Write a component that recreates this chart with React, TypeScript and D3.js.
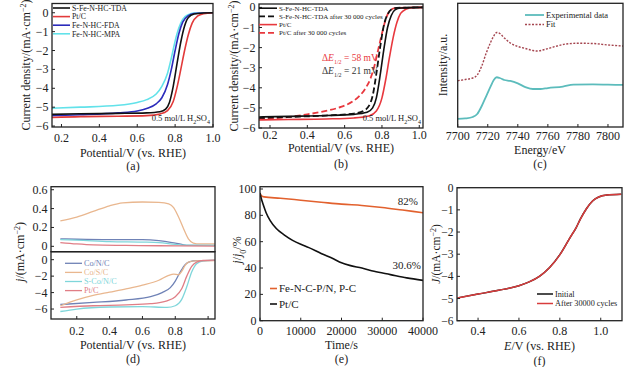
import React from "react";
import * as d3 from "d3";

const FONT = "'Liberation Serif', 'Times New Roman', serif";

type Pt = [number, number];

// (a) polarization curves in 0.5 mol/L H2SO4
const aTDA: Pt[] = [[0.15,-5.38],[0.3,-5.35],[0.5,-5.33],[0.65,-5.3],[0.72,-5.24],[0.75,-5.1],[0.77,-4.75],[0.79,-3.9],[0.81,-2.7],[0.83,-1.55],[0.85,-0.7],[0.87,-0.25],[0.9,-0.07],[0.95,-0.01],[1.0,0]];
const aPtC: Pt[] = [[0.15,-5.55],[0.3,-5.5],[0.5,-5.48],[0.65,-5.45],[0.72,-5.36],[0.76,-5.18],[0.79,-4.7],[0.81,-3.95],[0.83,-3.0],[0.85,-2.0],[0.87,-1.15],[0.89,-0.55],[0.92,-0.17],[0.95,-0.05],[1.0,0]];
const aFDA: Pt[] = [[0.15,-5.45],[0.3,-5.4],[0.5,-5.3],[0.6,-5.2],[0.65,-5.07],[0.7,-4.82],[0.73,-4.5],[0.76,-3.8],[0.78,-3.0],[0.8,-2.0],[0.82,-1.1],[0.84,-0.5],[0.87,-0.15],[0.9,-0.04],[1.0,0]];
const aMPA: Pt[] = [[0.15,-5.05],[0.3,-5.0],[0.5,-4.9],[0.6,-4.75],[0.65,-4.6],[0.7,-4.3],[0.73,-3.9],[0.76,-3.2],[0.78,-2.4],[0.8,-1.5],[0.82,-0.8],[0.84,-0.35],[0.87,-0.1],[0.9,-0.02],[1.0,0]];
const aNames = ["S-Fe-N-HC-TDA", "Pt/C", "Fe-N-HC-FDA", "Fe-N-HC-MPA"];

// (b) stability, before / after 30 000 cycles
const bTDA: Pt[] = [[0.14,-5.45],[0.3,-5.42],[0.5,-5.38],[0.65,-5.32],[0.72,-5.22],[0.75,-5.0],[0.77,-4.5],[0.79,-3.4],[0.81,-2.1],[0.83,-1.0],[0.85,-0.4],[0.87,-0.12],[0.9,-0.03],[1.02,0]];
const bTDAafter: Pt[] = [[0.14,-5.5],[0.3,-5.45],[0.5,-5.38],[0.65,-5.28],[0.7,-5.15],[0.73,-4.9],[0.75,-4.4],[0.77,-3.3],[0.79,-2.0],[0.81,-0.9],[0.83,-0.35],[0.85,-0.1],[0.88,-0.02],[1.02,0]];
const bPtC: Pt[] = [[0.14,-5.6],[0.3,-5.58],[0.5,-5.55],[0.65,-5.5],[0.73,-5.4],[0.77,-5.15],[0.8,-4.5],[0.82,-3.6],[0.84,-2.5],[0.86,-1.5],[0.88,-0.75],[0.9,-0.3],[0.93,-0.08],[0.96,-0.01],[1.02,0]];
const bPtCafter: Pt[] = [[0.14,-5.55],[0.3,-5.45],[0.4,-5.32],[0.5,-5.15],[0.58,-4.95],[0.64,-4.7],[0.68,-4.4],[0.71,-4.05],[0.74,-3.5],[0.76,-2.9],[0.78,-2.1],[0.8,-1.3],[0.82,-0.6],[0.84,-0.2],[0.87,-0.04],[1.02,0]];
const bNames = ["S-Fe-N-HC-TDA", "S-Fe-N-HC-TDA after 30 000 cycles", "Pt/C", "Pt/C after 30 000 cycles"];

// (c) XANES, arbitrary units
const cExp: Pt[] = [[7700,0.065],[7705,0.069],[7710,0.081],[7713,0.105],[7716,0.17],[7719,0.25],[7722,0.331],[7724,0.38],[7726,0.402],[7728,0.396],[7731,0.38],[7735,0.372],[7740,0.352],[7745,0.323],[7750,0.307],[7755,0.307],[7760,0.315],[7770,0.327],[7777,0.342],[7790,0.344],[7800,0.342],[7810,0.34]];
const cFit: Pt[] = [[7700,0.374],[7705,0.384],[7710,0.396],[7713,0.42],[7716,0.493],[7719,0.598],[7722,0.687],[7724,0.736],[7726,0.764],[7728,0.756],[7731,0.72],[7735,0.679],[7740,0.651],[7745,0.635],[7750,0.618],[7753,0.614],[7758,0.627],[7765,0.651],[7772,0.671],[7780,0.677],[7790,0.675],[7800,0.663],[7810,0.655]];

// (d) ring current (top) and disk current (bottom)
const dNames = ["Co/N/C", "Co/S/C", "S-Co/N/C", "Pt/C"];
const dRingCoN: Pt[] = [[0.1,0.08],[0.2,0.075],[0.4,0.07],[0.6,0.07],[0.7,0.06],[0.78,0.04],[0.84,0.02],[0.88,0.01],[1.04,0.01]];
const dRingCoS: Pt[] = [[0.1,0.27],[0.2,0.31],[0.3,0.37],[0.4,0.43],[0.48,0.46],[0.6,0.47],[0.7,0.465],[0.76,0.45],[0.79,0.41],[0.82,0.31],[0.85,0.19],[0.88,0.08],[0.91,0.035],[0.95,0.025],[1.04,0.025]];
const dRingSCoN: Pt[] = [[0.1,0.07],[0.2,0.065],[0.4,0.05],[0.6,0.045],[0.7,0.04],[0.8,0.02],[0.86,0.012],[1.04,0.01]];
const dRingPtC: Pt[] = [[0.1,0.04],[0.2,0.025],[0.3,0.015],[0.5,0.01],[0.7,0.006],[1.04,0.003]];
const dDiskCoN: Pt[] = [[0.1,-5.45],[0.3,-5.2],[0.5,-4.9],[0.65,-4.5],[0.72,-4.0],[0.77,-3.4],[0.8,-2.6],[0.83,-1.5],[0.86,-0.6],[0.89,-0.25],[0.93,-0.12],[1.04,-0.08]];
const dDiskCoS: Pt[] = [[0.1,-5.6],[0.2,-4.9],[0.3,-4.35],[0.4,-3.95],[0.5,-3.55],[0.6,-3.1],[0.7,-2.5],[0.76,-1.9],[0.79,-1.75],[0.82,-1.85],[0.84,-1.4],[0.86,-0.7],[0.88,-0.3],[0.92,-0.15],[1.04,-0.1]];
const dDiskSCoN: Pt[] = [[0.1,-6.3],[0.2,-6.0],[0.4,-5.75],[0.6,-5.7],[0.75,-5.8],[0.8,-5.6],[0.84,-4.8],[0.87,-3.3],[0.9,-1.5],[0.93,-0.5],[0.97,-0.15],[1.04,-0.05]];
const dDiskPtC: Pt[] = [[0.1,-5.8],[0.3,-5.6],[0.5,-5.5],[0.65,-5.35],[0.75,-5.0],[0.8,-4.5],[0.84,-3.5],[0.87,-2.0],[0.9,-0.8],[0.93,-0.3],[0.97,-0.1],[1.04,-0.05]];

// (e) chronoamperometry
const eFeNC: Pt[] = [[0,97],[300,95],[1000,94],[5000,93],[10000,91.5],[15000,90],[20000,88.5],[25000,87.5],[30000,86],[35000,84],[40000,82]];
const ePtC: Pt[] = [[0,97],[300,93],[800,88],[1500,82],[2500,76],[4000,70],[6000,65],[8000,61],[10000,58],[12000,55.5],[15000,51],[18000,47],[20000,44],[22000,42],[25000,40],[28000,37.5],[32000,35],[36000,32.5],[40000,30.6]];
const eNames = ["Fe-N-C-P/N, P-C", "Pt/C"];

// (f) initial vs after 30000 cycles (overlapping)
const fInitial: Pt[] = [[0.3,-4.97],[0.4,-4.8],[0.5,-4.63],[0.6,-4.42],[0.65,-4.25],[0.7,-4.0],[0.75,-3.6],[0.8,-3.02],[0.85,-2.25],[0.88,-1.8],[0.9,-1.42],[0.93,-0.95],[0.96,-0.6],[0.99,-0.42],[1.03,-0.33],[1.1,-0.29]];
const fAfter: Pt[] = [[0.3,-4.98],[0.4,-4.8],[0.5,-4.63],[0.6,-4.42],[0.65,-4.25],[0.7,-4.0],[0.75,-3.6],[0.8,-3.03],[0.85,-2.25],[0.88,-1.8],[0.9,-1.43],[0.93,-0.95],[0.96,-0.6],[0.99,-0.42],[1.03,-0.33],[1.1,-0.29]];
const fNames = ["Initial", "After 30000 cycles"];

const vTicks = [0.2, 0.4, 0.6, 0.8, 1.0];
const jTicks = [0, -1, -2, -3, -4, -5, -6];

type Lin = d3.ScaleLinear<number, number>;
type Series = { data: Pt[]; color: string; width?: number; dash?: string };

const minus = (d: number) => (d < 0 ? "\u2212" + Math.abs(d) : String(d));
const f1 = d3.format(".1f");

function Lines({ id, series, x, y }: { id: string; series: Series[]; x: Lin; y: Lin }) {
  const line = d3.line<Pt>().x(d => x(d[0])).y(d => y(d[1])).curve(d3.curveMonotoneX);
  const [x0, x1] = x.range();
  const [y1, y0] = y.range();
  return (
    <g>
      <clipPath id={id}><rect x={x0} y={y0} width={x1 - x0} height={y1 - y0} /></clipPath>
      <g clipPath={`url(#${id})`}>
        {series.map((s, i) => (
          <path key={i} d={line(s.data) || ""} fill="none" stroke={s.color}
            strokeWidth={s.width ?? 1.6} strokeDasharray={s.dash} strokeLinejoin="round" />
        ))}
      </g>
    </g>
  );
}

function Frame({ x, y }: { x: Lin; y: Lin }) {
  const [x0, x1] = x.range();
  const [y1, y0] = y.range();
  return <rect x={x0} y={y0} width={x1 - x0} height={y1 - y0} fill="none" stroke="#222" strokeWidth={1.3} />;
}

function XAxis({ x, y, ticks, fmt, labelY }: { x: Lin; y: number; ticks: number[]; fmt: (d: number) => string; labelY: number }) {
  return (
    <g>
      {ticks.map(t => (
        <g key={t}>
          <line x1={x(t)} x2={x(t)} y1={y} y2={y - 3} stroke="#222" strokeWidth={1} />
          <text x={x(t)} y={labelY} textAnchor="middle" fontSize={12}>{fmt(t)}</text>
        </g>
      ))}
    </g>
  );
}

function YAxis({ y, x, ticks, fmt, size = 12 }: { y: Lin; x: number; ticks: number[]; fmt: (d: number) => string; size?: number }) {
  return (
    <g>
      {ticks.map(t => (
        <g key={t}>
          <line x1={x} x2={x + 3} y1={y(t)} y2={y(t)} stroke="#222" strokeWidth={1} />
          <text x={x - 3.5} y={y(t) + 4} textAnchor="end" fontSize={size}>{fmt(t)}</text>
        </g>
      ))}
    </g>
  );
}

function YTitle({ x, y, children, size = 12 }: { x: number; y: number; children: React.ReactNode; size?: number }) {
  return (
    <text transform={`translate(${x},${y}) rotate(-90)`} textAnchor="middle" fontSize={size}>{children}</text>
  );
}

const unit = (
  <>(mA·cm<tspan baselineShift="super" fontSize={8}>{"\u22122"}</tspan>)</>
);

const dE = (
  <><tspan>Δ</tspan><tspan fontStyle="italic">E</tspan><tspan baselineShift="sub" fontSize={6}>1/2</tspan></>
);

function Legend({ x, y, dy, len, names, series, fontSize, colored }: { x: number; y: number; dy: number; len: number; names: string[]; series: Series[]; fontSize: number; colored?: boolean }) {
  return (
    <g>
      {names.map((n, i) => (
        <g key={n}>
          <line x1={x} x2={x + len} y1={y + i * dy} y2={y + i * dy} stroke={series[i].color}
            strokeWidth={series[i].width ?? 1.6} strokeDasharray={series[i].dash} />
          <text x={x + len + 2} y={y + i * dy + fontSize * 0.35} fontSize={fontSize}
            fill={colored ? series[i].color : "#222"}>{n}</text>
        </g>
      ))}
    </g>
  );
}

export default function App() {
  // (a)
  const ax = d3.scaleLinear().domain([0.15, 1.0]).range([52, 213]);
  const ay = d3.scaleLinear().domain([-6.05, 0.49]).range([127, 3.5]);
  const aSeries: Series[] = [
    { data: aTDA, color: "#111" },
    { data: aPtC, color: "#e23a3a" },
    { data: aFDA, color: "#2b2bbb" },
    { data: aMPA, color: "#62e2ea" },
  ];
  // (b)
  const bx = d3.scaleLinear().domain([0.141, 1.02]).range([259, 423]);
  const by = d3.scaleLinear().domain([-6.0, 0.17]).range([128, 4]);
  const bSeries: Series[] = [
    { data: bTDA, color: "#111" },
    { data: bTDAafter, color: "#111", dash: "6,3", width: 1.8 },
    { data: bPtC, color: "#e8383e" },
    { data: bPtCafter, color: "#e8383e", dash: "6,3", width: 1.8 },
  ];
  // (c)
  const cx = d3.scaleLinear().domain([7700, 7810]).range([457.7, 623]);
  const cy = d3.scaleLinear().domain([0, 1]).range([127, 3.3]);
  const cSeries: Series[] = [
    { data: cExp, color: "#5cbcbc", width: 1.8 },
    { data: cFit, color: "#a5454f", dash: "2,1.5", width: 1.4 },
  ];
  // (d)
  const dx = d3.scaleLinear().domain([0.043, 1.042]).range([51, 215]);
  const dyTop = d3.scaleLinear().domain([-0.057, 0.632]).range([251.7, 186.7]);
  const dyBot = d3.scaleLinear().domain([-7.21, 0.97]).range([319, 251.7]);
  const dColors = ["#6f82b6", "#e9b78f", "#7fd6da", "#e07e86"];
  const dTop: Series[] = [dRingCoN, dRingCoS, dRingSCoN, dRingPtC].map((data, i) => ({ data, color: dColors[i], width: 1.3 }));
  const dBot: Series[] = [dDiskCoN, dDiskCoS, dDiskSCoN, dDiskPtC].map((data, i) => ({ data, color: dColors[i], width: 1.3 }));
  // (e)
  const ex = d3.scaleLinear().domain([0, 40000]).range([260, 423]);
  const ey = d3.scaleLinear().domain([0, 101.75]).range([320.7, 186.7]);
  const eSeries: Series[] = [
    { data: eFeNC, color: "#e2612e", width: 1.6 },
    { data: ePtC, color: "#111", width: 1.6 },
  ];
  // (f)
  const fx = d3.scaleLinear().domain([0.297, 1.104]).range([457, 622]);
  const fy = d3.scaleLinear().domain([-6, 0]).range([320.7, 187.7]);
  const fSeries: Series[] = [
    { data: fInitial, color: "#111", width: 1.5 },
    { data: fAfter, color: "#d83c3c", width: 1.5 },
  ];

  const botTick = 334.5, botTitle = 348.5, botLab = 363;

  return (
    <svg width={639} height={367} style={{ position: "absolute", left: 0, top: 0, background: "#fff" }}
      fontFamily={FONT} fill="#222">
      <rect width={639} height={367} fill="#fff" />

      {/* (a) */}
      <Lines id="ca" series={[aSeries[3], aSeries[2], aSeries[1], aSeries[0]]} x={ax} y={ay} />
      <Frame x={ax} y={ay} />
      <XAxis x={ax} y={127} ticks={vTicks} fmt={f1} labelY={141.5} />
      <YAxis y={ay} x={52} ticks={jTicks} fmt={minus} />
      <Legend x={53} y={8} dy={8.6} len={17} names={aNames} series={aSeries} fontSize={7.8} />
      <text x={210} y={121} textAnchor="end" fontSize={8.5}>0.5 mol/L H<tspan baselineShift="sub" fontSize={6}>2</tspan>SO<tspan baselineShift="sub" fontSize={6}>4</tspan></text>
      <text x={133} y={157} textAnchor="middle" fontSize={12}>Potential/V (vs. RHE)</text>
      <text x={133} y={169.5} textAnchor="middle" fontSize={12}>(a)</text>
      <YTitle x={30} y={65}>Current density/{unit}</YTitle>

      {/* (b) */}
      <Lines id="cb" series={[bSeries[2], bSeries[3], bSeries[0], bSeries[1]]} x={bx} y={by} />
      <Frame x={bx} y={by} />
      <XAxis x={bx} y={128} ticks={vTicks} fmt={f1} labelY={139} />
      <YAxis y={by} x={259} ticks={jTicks} fmt={minus} />
      <Legend x={259} y={8.2} dy={8.2} len={18} names={bNames} series={bSeries} fontSize={7} />
      <text x={322} y={61} fontSize={9.5} fill="#e8383e">{dE} = 58 mV</text>
      <text x={322} y={74} fontSize={9.5} fill="#333">{dE} = 21 mV</text>
      <text x={421} y={120.5} textAnchor="end" fontSize={8.5}>0.5 mol/L H<tspan baselineShift="sub" fontSize={6}>2</tspan>SO<tspan baselineShift="sub" fontSize={6}>4</tspan></text>
      <text x={341} y={152} textAnchor="middle" fontSize={12}>Potential/V (vs. RHE)</text>
      <text x={341} y={167.5} textAnchor="middle" fontSize={12}>(b)</text>
      <YTitle x={238} y={66}>Current density/{unit}</YTitle>

      {/* (c) */}
      <Lines id="cc" series={cSeries} x={cx} y={cy} />
      <Frame x={cx} y={cy} />
      <XAxis x={cx} y={127} ticks={[7700, 7720, 7740, 7760, 7780, 7800]} fmt={String} labelY={139.5} />
      <Legend x={525} y={15} dy={9.5} len={19} names={["Experimental data", "Fit"]} series={cSeries} fontSize={8.5} />
      <text x={540} y={153.5} textAnchor="middle" fontSize={12}>Energy/eV</text>
      <text x={540} y={168} textAnchor="middle" fontSize={12}>(c)</text>
      <YTitle x={447} y={65}>Intensity/a.u.</YTitle>

      {/* (d) */}
      <Lines id="cd1" series={dTop} x={dx} y={dyTop} />
      <Lines id="cd2" series={dBot} x={dx} y={dyBot} />
      <Frame x={dx} y={dyTop} />
      <Frame x={dx} y={dyBot} />
      <YAxis y={dyTop} x={51} ticks={[0, 0.2, 0.4, 0.6]} fmt={d => (d === 0 ? "0" : f1(d))} />
      <YAxis y={dyBot} x={51} ticks={[0, -2, -4, -6]} fmt={minus} />
      <XAxis x={dx} y={319} ticks={vTicks} fmt={f1} labelY={botTick} />
      <Legend x={65} y={263.3} dy={9.1} len={17} names={dNames} series={dTop} fontSize={8.2} colored />
      <text x={133} y={botTitle} textAnchor="middle" fontSize={12}>Potential/V (vs. RHE)</text>
      <text x={133} y={botLab} textAnchor="middle" fontSize={12}>(d)</text>
      <YTitle x={24} y={252}><tspan fontStyle="italic">j</tspan>/{unit}</YTitle>

      {/* (e) */}
      <Lines id="ce" series={eSeries} x={ex} y={ey} />
      <Frame x={ex} y={ey} />
      <XAxis x={ex} y={320.7} ticks={[0, 10000, 20000, 30000, 40000]} fmt={String} labelY={botTick} />
      <YAxis y={ey} x={260} ticks={[0, 20, 40, 60, 80, 100]} fmt={String} />
      <Legend x={270} y={288.5} dy={15.5} len={7} names={eNames} series={eSeries} fontSize={11} />
      <text x={418} y={205} textAnchor="end" fontSize={11}>82%</text>
      <text x={421} y={269} textAnchor="end" fontSize={11}>30.6%</text>
      <text x={341.5} y={botTitle} textAnchor="middle" fontSize={12}>Time/s</text>
      <text x={341.5} y={botLab} textAnchor="middle" fontSize={12}>(e)</text>
      <YTitle x={241} y={250}><tspan fontStyle="italic">j</tspan>/<tspan fontStyle="italic">j</tspan><tspan baselineShift="sub" fontSize={8}>0</tspan>/%</YTitle>

      {/* (f) */}
      <Lines id="cf" series={fSeries} x={fx} y={fy} />
      <Frame x={fx} y={fy} />
      <XAxis x={fx} y={320.7} ticks={[0.4, 0.6, 0.8, 1.0]} fmt={f1} labelY={botTick} />
      <YAxis y={fy} x={457} ticks={jTicks} fmt={minus} size={11.5} />
      <Legend x={537} y={294} dy={9.5} len={16} names={fNames} series={fSeries} fontSize={8.2} />
      <text x={539.5} y={349.5} textAnchor="middle" fontSize={12}><tspan fontStyle="italic">E</tspan>/V (vs. RHE)</text>
      <text x={539.5} y={364.5} textAnchor="middle" fontSize={12}>(f)</text>
      <YTitle x={440} y={254} size={11.5}><tspan fontStyle="italic">J</tspan>/{unit}</YTitle>
    </svg>
  );
}
